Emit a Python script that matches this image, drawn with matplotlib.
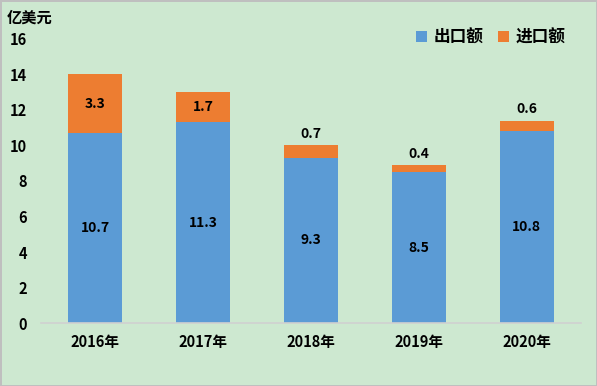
import matplotlib
matplotlib.use('Agg')
import matplotlib.pyplot as plt
import numpy as np

plt.rcParams['font.family'] = ['Noto Sans CJK SC', 'DejaVu Sans']

years = ['2016年', '2017年', '2018年', '2019年', '2020年']
export_vals = [10.7, 11.3, 9.3, 8.5, 10.8]
import_vals = [3.3, 1.7, 0.7, 0.4, 0.6]

bg = '#CDE8D0'
blue = '#5B9BD5'
orange = '#ED7D31'

fig = plt.figure(figsize=(5.97, 3.86), dpi=100, facecolor=bg)
fig.patch.set_edgecolor('#BFBFBF')
fig.patch.set_linewidth(2)
ax = fig.add_axes([0.0687, 0.1632, 0.904, 0.7358])
ax.set_facecolor(bg)

x = np.arange(len(years))
ax.bar(x, export_vals, width=0.5, color=blue, label='出口额')
ax.bar(x, import_vals, width=0.5, bottom=export_vals, color=orange, label='进口额')

for i in range(len(years)):
    ax.text(x[i], export_vals[i] / 2, f'{export_vals[i]}', ha='center', va='center',
            fontsize=10, fontweight='bold')
    if import_vals[i] >= 1.0:
        ax.text(x[i], export_vals[i] + import_vals[i] / 2, f'{import_vals[i]}',
                ha='center', va='center', fontsize=10, fontweight='bold')
    else:
        ax.text(x[i], export_vals[i] + import_vals[i] + 0.25, f'{import_vals[i]}',
                ha='center', va='bottom', fontsize=10, fontweight='bold')

ax.set_xlim(-0.5, 4.5)
ax.set_ylim(0, 16)
ax.set_yticks(np.arange(0, 17, 2))
ax.set_xticks(x)
ax.set_xticklabels(years, fontsize=10.5, fontweight='bold')
ax.tick_params(axis='y', labelsize=10.5, length=0, pad=10)
ax.tick_params(axis='x', length=0, pad=8)
for lbl in ax.get_yticklabels():
    lbl.set_fontweight('bold')
for s in ['top', 'right', 'left']:
    ax.spines[s].set_visible(False)
ax.spines['bottom'].set_color('#D0D0D0')
ax.spines['bottom'].set_linewidth(1.2)

fig.text(0.012, 0.955, '亿美元', fontsize=11, fontweight='bold', ha='left', va='center')

ax.legend(loc='upper right', bbox_to_anchor=(1.0, 1.09), ncol=2, frameon=False,
          prop={'weight': 'bold', 'size': 12}, handlelength=0.65,
          handleheight=0.65, handletextpad=0.4, columnspacing=0.9)

fig.savefig('out.png', dpi=100, facecolor=bg, edgecolor='#BFBFBF')
